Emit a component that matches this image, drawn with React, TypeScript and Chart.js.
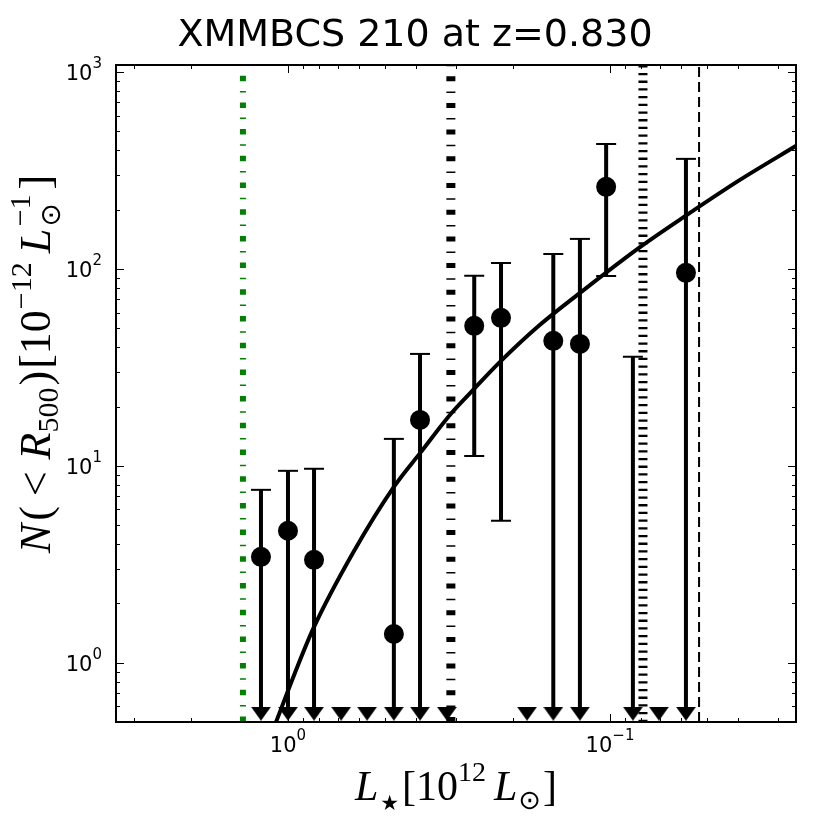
import React, { useEffect, useRef } from "react";
import Chart from "chart.js/auto";

const SANS = "'DejaVu Sans', sans-serif";
const SERIF = "'Liberation Serif', 'DejaVu Serif', serif";

// luminosity bins, 10^12 Lsun (axis runs bright -> faint)
const binL = [1.213, 1.0, 0.83, 0.684, 0.568, 0.469, 0.389, 0.321, 0.264, 0.218, 0.181, 0.15, 0.124, 0.1028, 0.0849, 0.0705, 0.0581];
const counts = [3.45, 4.68, 3.33, null, null, 1.4, 17.1, null, 51.4, 56.4, null, 43.1, 41.6, 261, null, null, 95.5];
const upperErr = [7.55, 9.43, 9.66, null, null, 13.7, 37.0, null, 92.2, 107, null, 119, 142, 431, 35.8, null, 362];
// null -> bar runs down to the limit marker
const lowerErr = [null, null, null, null, null, null, null, null, 11.2, 5.26, null, null, null, 92, null, null, null];
const limitN = 0.551;

// fitted luminosity function
const fitL = [1.113, 1.082, 0.951, 0.83, 0.628, 0.469, 0.389, 0.31, 0.266, 0.2196, 0.165, 0.124, 0.0807, 0.0577, 0.0395, 0.0262];
const fitN = [0.457, 0.514, 0.89, 1.52, 3.62, 7.82, 11.6, 18.6, 24.3, 33.7, 52.0, 75.5, 129, 188, 283, 425];

// reference luminosities
const greenCutL = 1.38;
const dashDotL = 0.312;
const dottedL = 0.079;
const dashedL = 0.0529;

const xMin = 0.02645;
const xMax = 3.42;
const yMin = 0.5;
const yMax = 1085;

const titleText = "XMMBCS 210 at z=0.830";

const logTicks = (min: number, max: number) => {
  const out: { value: number; major: boolean }[] = [];
  for (let e = Math.floor(Math.log10(min)); e <= Math.ceil(Math.log10(max)); e++) {
    for (let m = 1; m < 10; m++) {
      const v = m * Math.pow(10, e);
      if (v >= min * 0.9999 && v <= max * 1.0001) out.push({ value: v, major: m === 1 });
    }
  }
  return out;
};

type Seg = { t: string; size: number; italic?: boolean; dy?: number; kern?: number; family?: string };

const drawRich = (ctx: CanvasRenderingContext2D, segs: Seg[], cx: number, baseline: number) => {
  const font = (s: Seg) => `${s.italic ? "italic " : ""}${s.size}px ${s.family ?? SERIF}`;
  let total = 0;
  segs.forEach((s) => {
    ctx.font = font(s);
    total += (s.kern ?? 0) + ctx.measureText(s.t).width;
  });
  let x = cx - total / 2;
  ctx.textAlign = "left";
  ctx.textBaseline = "alphabetic";
  segs.forEach((s) => {
    ctx.font = font(s);
    x += s.kern ?? 0;
    ctx.fillText(s.t, x, baseline + (s.dy ?? 0));
    x += ctx.measureText(s.t).width;
  });
};

const xLabel: Seg[] = [
  { t: "L", size: 42, italic: true },
  { t: "★", size: 21, dy: 10, kern: 2, family: SANS },
  { t: "[10", size: 42, kern: 3 },
  { t: "12", size: 28, dy: -19 },
  { t: "L", size: 42, italic: true, kern: 8 },
  { t: "⊙", size: 27, dy: 9, kern: 1, family: SANS },
  { t: "]", size: 42, kern: 2 },
];

const yLabel: Seg[] = [
  { t: "N", size: 44, italic: true },
  { t: "(", size: 44, kern: 3 },
  { t: "<", size: 44, kern: 10 },
  { t: "R", size: 44, italic: true, kern: 12 },
  { t: "500", size: 30, dy: 8 },
  { t: ")", size: 44, kern: 2 },
  { t: "[10", size: 44, kern: 2 },
  { t: "−12", size: 30, dy: -19, kern: 1 },
  { t: "L", size: 44, italic: true, kern: 9 },
  { t: "⊙", size: 28, dy: 10, kern: 2, family: SANS },
  { t: "−1", size: 30, dy: -20, kern: -23 },
  { t: "]", size: 44, kern: 5 },
];

const errorBars = {
  id: "errorBars",
  beforeDatasetsDraw(chart: any) {
    const { ctx, scales } = chart;
    const { x, y } = scales;
    ctx.save();
    ctx.strokeStyle = "#000";
    binL.forEach((l, i) => {
      const top = upperErr[i];
      if (top == null) return;
      const px = x.getPixelForValue(l);
      const low = lowerErr[i];
      const yTop = y.getPixelForValue(top);
      const yBot = y.getPixelForValue(low ?? limitN);
      ctx.lineWidth = 4;
      ctx.beginPath();
      ctx.moveTo(px, yTop);
      ctx.lineTo(px, yBot);
      ctx.stroke();
      ctx.lineWidth = 2;
      ctx.beginPath();
      ctx.moveTo(px - 10, yTop);
      ctx.lineTo(px + 10, yTop);
      if (low != null) {
        ctx.moveTo(px - 10, yBot);
        ctx.lineTo(px + 10, yBot);
      }
      ctx.stroke();
    });
    ctx.restore();
  },
};

// "10" with a raised exponent, like mathtext tick labels
const drawPower = (ctx: CanvasRenderingContext2D, value: number, x: number, baseline: number, align: "center" | "right") => {
  const e = Math.round(Math.log10(value));
  const exp = e < 0 ? "−" + -e : String(e);
  ctx.font = `21px ${SANS}`;
  const w1 = ctx.measureText("10").width;
  ctx.font = `15px ${SANS}`;
  const w2 = ctx.measureText(exp).width;
  const left = align === "center" ? x - (w1 + w2) / 2 : x - (w1 + w2);
  ctx.textAlign = "left";
  ctx.textBaseline = "alphabetic";
  ctx.font = `21px ${SANS}`;
  ctx.fillText("10", left, baseline);
  ctx.font = `15px ${SANS}`;
  ctx.fillText(exp, left + w1, baseline - 12);
};

const frameAndText = {
  id: "frameAndText",
  afterDraw(chart: any) {
    const { ctx, chartArea: a, scales } = chart;
    ctx.save();
    ctx.strokeStyle = "#000";
    ctx.fillStyle = "#000";
    ctx.lineWidth = 1;
    ctx.beginPath();
    scales.x.ticks.forEach((t: any) => {
      const px = Math.round(scales.x.getPixelForValue(t.value)) + 0.5;
      if (px < a.left || px > a.right) return;
      const len = t.major ? 8 : 4;
      ctx.moveTo(px, a.bottom);
      ctx.lineTo(px, a.bottom - len);
      ctx.moveTo(px, a.top);
      ctx.lineTo(px, a.top + len);
    });
    scales.y.ticks.forEach((t: any) => {
      const py = Math.round(scales.y.getPixelForValue(t.value)) + 0.5;
      if (py < a.top || py > a.bottom) return;
      const len = t.major ? 8 : 4;
      ctx.moveTo(a.left, py);
      ctx.lineTo(a.left + len, py);
      ctx.moveTo(a.right, py);
      ctx.lineTo(a.right - len, py);
    });
    ctx.stroke();
    ctx.lineWidth = 2;
    ctx.strokeRect(a.left, a.top, a.right - a.left, a.bottom - a.top);

    scales.x.ticks.forEach((t: any) => {
      if (t.major) drawPower(ctx, t.value, scales.x.getPixelForValue(t.value), a.bottom + 30, "center");
    });
    scales.y.ticks.forEach((t: any) => {
      if (t.major) drawPower(ctx, t.value, a.left - 14, scales.y.getPixelForValue(t.value) + 8, "right");
    });

    ctx.font = `38px ${SANS}`;
    ctx.textAlign = "center";
    ctx.textBaseline = "alphabetic";
    ctx.fillText(titleText, chart.width / 2, 46);

    drawRich(ctx, xLabel, (a.left + a.right) / 2, 800);

    ctx.translate(50, 364);
    ctx.rotate(-Math.PI / 2);
    drawRich(ctx, yLabel, 0, 0);
    ctx.restore();
  },
};

const makeTriangle = () => {
  const c = document.createElement("canvas");
  c.width = 20;
  c.height = 14;
  const g = c.getContext("2d");
  if (g) {
    g.fillStyle = "#000";
    g.beginPath();
    g.moveTo(0, 0);
    g.lineTo(20, 0);
    g.lineTo(10, 14);
    g.closePath();
    g.fill();
  }
  return c;
};

const vline = (l: number, color: string, width: number, dash: number[]) => ({
  data: [
    { x: l, y: yMin },
    { x: l, y: yMax },
  ],
  showLine: true,
  borderColor: color,
  borderWidth: width,
  borderDash: dash,
  pointRadius: 0,
  clip: 0,
});

const App = () => {
  const chartRef = useRef<HTMLCanvasElement>(null);
  const chartInstanceRef = useRef<Chart | null>(null);

  useEffect(() => {
    const ctx = chartRef.current?.getContext("2d");
    if (!ctx) return;
    if (chartInstanceRef.current) chartInstanceRef.current.destroy();

    const points = binL
      .map((l, i) => ({ x: l, y: counts[i] }))
      .filter((p) => p.y != null);
    const limits = binL
      .filter((_, i) => lowerErr[i] == null)
      .map((l) => ({ x: l, y: limitN }));
    const fit = fitL.map((l, i) => ({ x: l, y: fitN[i] }));

    chartInstanceRef.current = new Chart(ctx, {
      type: "scatter",
      data: {
        datasets: [
          {
            data: points,
            pointRadius: 10,
            pointBackgroundColor: "#000",
            pointBorderWidth: 0,
          },
          {
            data: limits,
            pointStyle: makeTriangle(),
            pointRadius: 7,
          },
          {
            data: fit,
            showLine: true,
            borderColor: "#000",
            borderWidth: 4,
            pointRadius: 0,
            cubicInterpolationMode: "monotone",
            clip: 0,
          },
          vline(greenCutL, "#008000", 6, [5.5, 10, 1.5, 9.7]),
          vline(dashDotL, "#000", 9, [5, 10, 1.5, 10.2]),
          vline(dottedL, "#000", 9, [2.3, 5.4]),
          vline(dashedL, "#000", 2, [10, 5]),
        ] as any,
      },
      options: {
        animation: false,
        responsive: false,
        layout: { padding: { top: 65, right: 34, left: 0, bottom: 0 } },
        plugins: {
          legend: { display: false },
          tooltip: { enabled: false },
        },
        scales: {
          x: {
            type: "logarithmic",
            reverse: true,
            min: xMin,
            max: xMax,
            grid: { display: false, drawTicks: false },
            border: { display: false },
            ticks: { display: false, autoSkip: false },
            afterBuildTicks: (scale: any) => {
              scale.ticks = logTicks(scale.min, scale.max);
            },
            afterFit: (scale: any) => {
              scale.height = 108;
            },
          },
          y: {
            type: "logarithmic",
            min: yMin,
            max: yMax,
            grid: { display: false, drawTicks: false },
            border: { display: false },
            ticks: { display: false, autoSkip: false },
            afterBuildTicks: (scale: any) => {
              scale.ticks = logTicks(scale.min, scale.max);
            },
            afterFit: (scale: any) => {
              scale.width = 116;
            },
          },
        },
      } as any,
      plugins: [errorBars, frameAndText],
    });

    return () => {
      if (chartInstanceRef.current) {
        chartInstanceRef.current.destroy();
        chartInstanceRef.current = null;
      }
    };
  }, []);

  return (
    <div style={{ position: "fixed", left: 0, top: 0, width: 830, height: 830, background: "#fff" }}>
      <canvas ref={chartRef} width={830} height={830} />
    </div>
  );
};

export default App;
